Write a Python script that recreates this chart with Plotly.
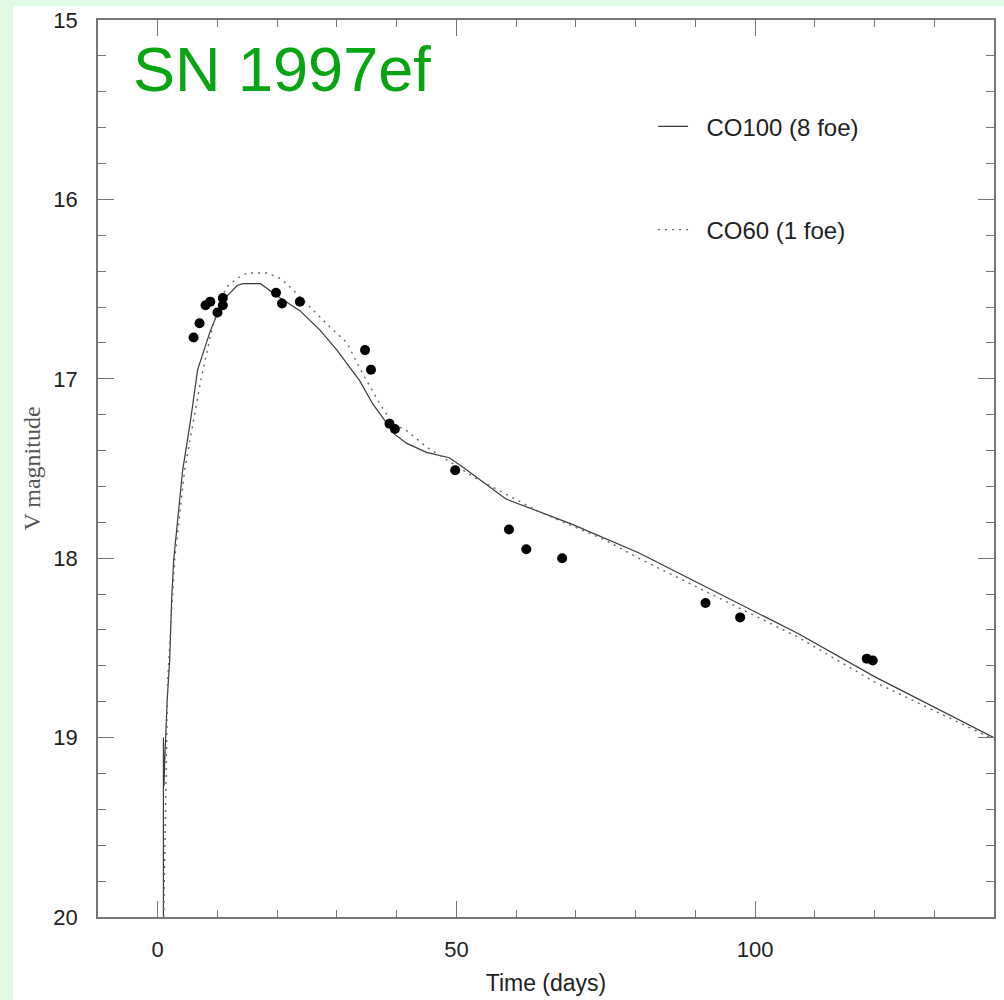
import plotly.graph_objects as go

# Observed data (SN 1997ef, V band)
obs_t = [6.0, 7.0, 8.0, 8.8, 10.0, 10.9, 10.9, 19.8, 20.8, 23.8, 34.7, 35.7, 38.8, 39.7,
         49.8, 58.8, 61.7, 67.7, 91.7, 97.5, 118.7, 119.7]
obs_v = [16.77, 16.69, 16.59, 16.57, 16.63, 16.59, 16.55, 16.52, 16.58, 16.57, 16.84, 16.95,
         17.25, 17.28, 17.51, 17.84, 17.95, 18.00, 18.25, 18.33, 18.56, 18.57]

# Model CO100 (8 foe) - solid
co100_t = [0.95, 0.95, 1.05, 1.17, 1.58, 2.0, 2.33, 2.67, 3.33, 4.17, 5.5, 6.67, 8.83, 11.0,
           13.3, 14.3, 17.2, 18.8, 20.5, 23.8, 27.2, 30.0, 32.2, 33.8, 36.0, 38.3, 39.7,
           41.7, 45.0, 48.8, 51.0, 58.3, 69.3, 80.5, 90.0, 100.0, 107.2, 120.0, 130.0, 140.0]
co100_v = [20.0, 19.0, 19.27, 19.13, 18.79, 18.57, 18.23, 18.01, 17.79, 17.51, 17.23, 16.95,
           16.73, 16.56, 16.48, 16.47, 16.47, 16.51, 16.55, 16.62, 16.73, 16.84, 16.94, 17.01,
           17.14, 17.25, 17.31, 17.36, 17.41, 17.44, 17.49, 17.67, 17.81, 17.97, 18.13, 18.30,
           18.42, 18.66, 18.83, 19.0]

# Model CO60 (1 foe) - dotted
co60_t = [1.0, 1.67, 2.83, 4.5, 6.0, 7.2, 8.83, 10.5, 11.8, 13.3, 15.0, 18.3, 20.5, 22.2,
          25.5, 28.8, 31.7, 33.8, 37.2, 39.3, 41.7, 45.0, 48.8, 53.0, 63.8, 75.0, 80.5,
          95.0, 107.2, 120.0, 130.0, 140.0]
co60_v = [20.0, 18.68, 18.01, 17.51, 17.23, 17.01, 16.76, 16.55, 16.48, 16.44, 16.41, 16.41,
          16.44, 16.49, 16.60, 16.71, 16.80, 16.94, 17.14, 17.25, 17.29, 17.38, 17.46, 17.55,
          17.74, 17.90, 18.00, 18.24, 18.44, 18.69, 18.85, 19.01]

x_ticks = [0, 50, 100]
y_ticks = [15, 16, 17, 18, 19, 20]

FONT = "Liberation Sans, Arial, sans-serif"
NB = "\u00a0\u00a0"
fig = go.Figure()

fig.add_trace(go.Scatter(x=co100_t, y=co100_v, mode="lines", name=NB + "CO100 (8 foe)",
                         line=dict(color="#3a3a3a", width=1.2), legendgroup="a"))
fig.add_trace(go.Scatter(x=co60_t, y=co60_v, mode="lines", name=NB + "CO60 (1 foe)",
                         line=dict(color="#666666", width=1.4, dash="2px,5px"), legendgroup="b"))
fig.add_trace(go.Scatter(x=obs_t, y=obs_v, mode="markers", showlegend=False,
                         marker=dict(color="black", size=10)))

axis_common = dict(showgrid=False, zeroline=False, showline=True, linecolor="#777777",
                   linewidth=1.5, mirror="ticks", ticks="inside", tickcolor="#777777",
                   ticklen=16, tickwidth=1.2,
                   tickfont=dict(family=FONT, size=22, color="#222222"))

fig.update_xaxes(range=[-10, 140], tickvals=x_ticks, ticklabelstandoff=12,
                 minor=dict(dtick=10, ticks="inside", ticklen=7, tickcolor="#777777", tickwidth=1.2),
                 title=dict(text="Time (days)", font=dict(family=FONT, size=23, color="#222222"),
                            standoff=14),
                 **axis_common)
fig.update_yaxes(range=[20, 15], tickvals=y_ticks, ticklabelstandoff=14,
                 minor=dict(dtick=0.2, ticks="inside", ticklen=8, tickcolor="#777777", tickwidth=1.2),
                 title=dict(text="V magnitude",
                            font=dict(family="Liberation Serif, Times New Roman, serif", size=24,
                                      color="#555555"),
                            standoff=6),
                 **axis_common)

fig.add_annotation(text="SN 1997ef", xref="paper", yref="paper", x=0.037, y=0.945,
                   xanchor="left", yanchor="middle", showarrow=False,
                   font=dict(family=FONT, size=63, color="#07a512"))

fig.update_layout(
    width=1004, height=1000,
    margin=dict(l=98, r=8, t=19, b=83),
    paper_bgcolor="#e1f9e2", plot_bgcolor="white",
    showlegend=True,
    legend=dict(x=0.6195, y=0.906, xanchor="left", yanchor="top", bgcolor="rgba(0,0,0,0)",
                font=dict(family=FONT, size=24, color="#222222"),
                traceorder="grouped", tracegroupgap=69, itemwidth=30),
    shapes=[dict(type="rect", xref="paper", yref="paper", x0=-0.0947, x1=1.2, y0=-0.3, y1=1.0156,
                 fillcolor="white", line=dict(width=0), layer="below")],
)

fig.write_html("out.html")
